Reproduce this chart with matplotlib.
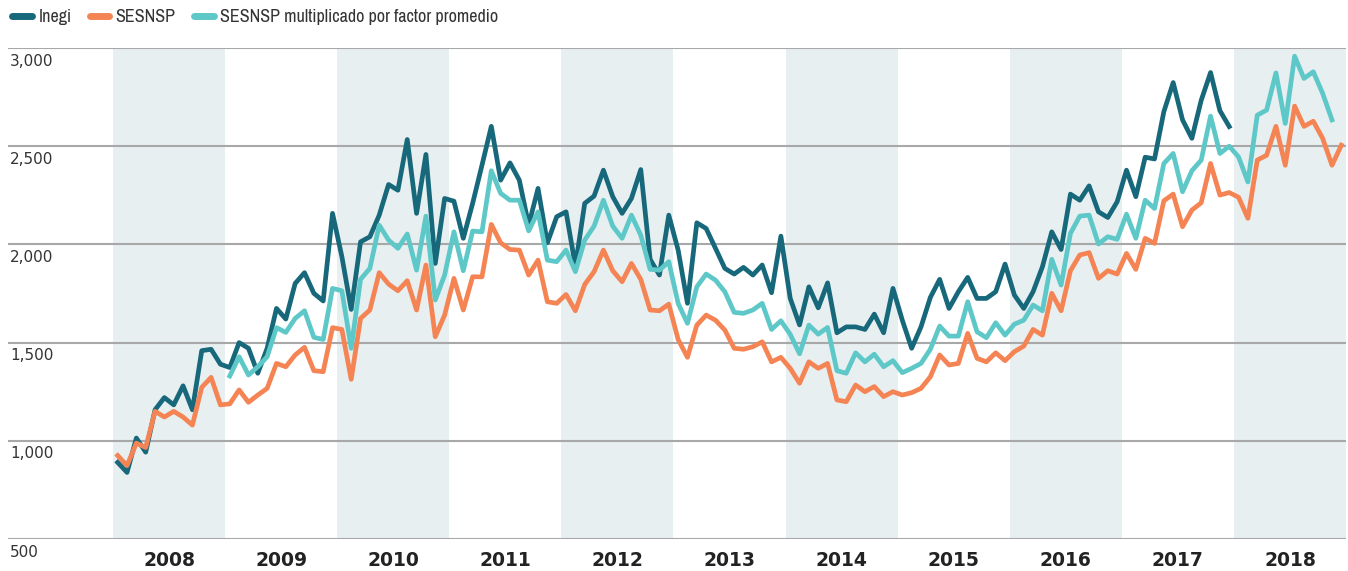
import matplotlib
matplotlib.use('Agg')
import matplotlib.pyplot as plt
from matplotlib import font_manager

# years shown on the x axis, one point per month from Jan 2008
years = list(range(2008, 2019))

# Inegi, Jan 2008 - Dec 2017
inegi = [890, 839, 1014, 942, 1158, 1220, 1183, 1280, 1158, 1459, 1466, 1390,
         1373, 1500, 1471, 1344, 1471, 1674, 1620, 1801, 1856, 1751, 1712, 2158,
         1938, 1669, 2013, 2039, 2149, 2305, 2276, 2534, 2158, 2458, 1903, 2234,
         2220, 2031, 2209, 2403, 2601, 2327, 2415, 2327, 2098, 2285, 2008, 2141,
         2166, 1890, 2209, 2246, 2378, 2243, 2158, 2234, 2381, 1924, 1844, 2149,
         1971, 1700, 2110, 2081, 1980, 1878, 1849, 1883, 1844, 1895, 1754, 2042,
         1725, 1590, 1784, 1677, 1804, 1550, 1580, 1580, 1567, 1645, 1550, 1776,
         1614, 1471, 1580, 1730, 1822, 1674, 1759, 1832, 1725, 1725, 1759, 1900,
         1742, 1674, 1759, 1886, 2064, 1974, 2256, 2225, 2298, 2166, 2137, 2217,
         2378, 2243, 2444, 2435, 2676, 2824, 2634, 2540, 2734, 2875, 2681, 2600]

# SESNSP, Jan 2008 - Dec 2018
sesnsp = [925, 874, 988, 966, 1150, 1121, 1150, 1121, 1080, 1272, 1323, 1183,
          1188, 1259, 1196, 1233, 1267, 1394, 1377, 1437, 1476, 1357, 1352, 1576,
          1567, 1313, 1623, 1666, 1856, 1798, 1764, 1815, 1666, 1895, 1530, 1640,
          1827, 1666, 1835, 1835, 2102, 2008, 1974, 1971, 1844, 1920, 1708, 1700,
          1745, 1662, 1796, 1861, 1971, 1866, 1810, 1903, 1822, 1666, 1662, 1696,
          1516, 1425, 1589, 1640, 1614, 1564, 1471, 1466, 1479, 1504, 1402, 1425,
          1369, 1293, 1402, 1369, 1394, 1208, 1199, 1284, 1250, 1276, 1225, 1250,
          1233, 1245, 1267, 1326, 1437, 1386, 1394, 1547, 1420, 1402, 1448, 1408,
          1454, 1482, 1567, 1538, 1751, 1662, 1866, 1946, 1958, 1827, 1866, 1849,
          1954, 1873, 2031, 2005, 2222, 2256, 2090, 2175, 2212, 2412, 2251, 2264,
          2240, 2133, 2429, 2454, 2601, 2403, 2704, 2601, 2627, 2540, 2403, 2505]

# SESNSP multiplicado por factor promedio, Jan 2009 - Nov 2018
factor = [1330, 1428, 1335, 1377, 1428, 1576, 1552, 1623, 1662, 1527, 1516, 1776,
          1764, 1471, 1822, 1878, 2098, 2022, 1980, 2053, 1869, 2144, 1717, 1844,
          2064, 1866, 2068, 2064, 2375, 2260, 2225, 2225, 2069, 2166, 1920, 1912,
          1971, 1861, 2022, 2093, 2225, 2093, 2031, 2149, 2047, 1873, 1869, 1912,
          1700, 1598, 1784, 1849, 1818, 1759, 1654, 1649, 1666, 1700, 1567, 1611,
          1542, 1443, 1589, 1543, 1577, 1357, 1344, 1448, 1402, 1441, 1377, 1408,
          1347, 1369, 1394, 1466, 1584, 1533, 1533, 1708, 1555, 1525, 1601, 1538,
          1594, 1614, 1691, 1662, 1924, 1793, 2056, 2144, 2149, 2002, 2039, 2026,
          2154, 2031, 2225, 2183, 2412, 2463, 2268, 2375, 2429, 2653, 2463, 2500,
          2445, 2318, 2658, 2684, 2873, 2616, 2958, 2845, 2879, 2769, 2634]
factor_start = 12  # first month index of the factor series

yticks = [500, 1000, 1500, 2000, 2500, 3000]
ytick_labels = ['500', '1,000', '1,500', '2,000', '2,500', '3,000']

c_inegi = '#17687a'
c_sesnsp = '#f58454'
c_factor = '#5ec8c8'
band = '#e7eff1'

# look for a condensed face for the legend, if there is one
narrow = None
for f in font_manager.fontManager.ttflist:
    if 'Narrow' in f.name or 'Condensed' in f.name:
        narrow = f.name
        break

fig = plt.figure(figsize=(13.48, 5.71), dpi=100)
ax = fig.add_axes([8 / 1348, 1 - 539 / 571, 1338 / 1348, (539 - 48) / 571])

# shaded bands for even years
for i, yr in enumerate(years):
    if i % 2 == 0:
        ax.axvspan(12 * i - 0.5, 12 * i + 11.5, color=band, lw=0, zorder=0)

for v, lab in zip(yticks, ytick_labels):
    ax.axhline(v, color='#a8a8a8', lw=1.5, zorder=1)
    ax.annotate(lab, xy=(0, v), xycoords=('axes fraction', 'data'),
                xytext=(1.5, -4), textcoords='offset points', va='top', ha='left',
                fontsize=11, color='#333333')

x_inegi = list(range(len(inegi)))
x_sesnsp = list(range(len(sesnsp)))
x_factor = list(range(factor_start, factor_start + len(factor)))

ax.plot(x_inegi, inegi, color=c_inegi, lw=3.4, label='Inegi', zorder=3)
ax.plot(x_sesnsp, sesnsp, color=c_sesnsp, lw=3.4, label='SESNSP', zorder=3)
ax.plot(x_factor, factor, color=c_factor, lw=3.4, label='SESNSP multiplicado por factor promedio', zorder=3)

ax.set_xlim(-0.5 - 105 / 9.34, 131.5)
ax.set_ylim(500, 3000)
ax.set_yticks([])
ax.set_xticks([12 * i + 5.5 for i in range(len(years))])
ax.set_xticklabels([str(y) for y in years], fontsize=13.5, fontweight='bold', color='#222222')
ax.tick_params(axis='x', length=0, pad=9)
for s in ax.spines.values():
    s.set_visible(False)

if narrow:
    prop = {'family': [narrow, 'DejaVu Sans'], 'size': 13}
else:
    prop = {'family': ['DejaVu Sans'], 'size': 12}
leg = fig.legend(loc='upper left', bbox_to_anchor=(-0.003, 1.013), ncol=3, frameon=False,
                 handlelength=1.1, handletextpad=0.35, columnspacing=1.0, prop=prop)
for t in leg.get_texts():
    t.set_color('#333333')
for h in leg.legend_handles:
    h.set_linewidth(5)
    h.set_solid_capstyle('round')

fig.savefig('out.png', dpi=100)
